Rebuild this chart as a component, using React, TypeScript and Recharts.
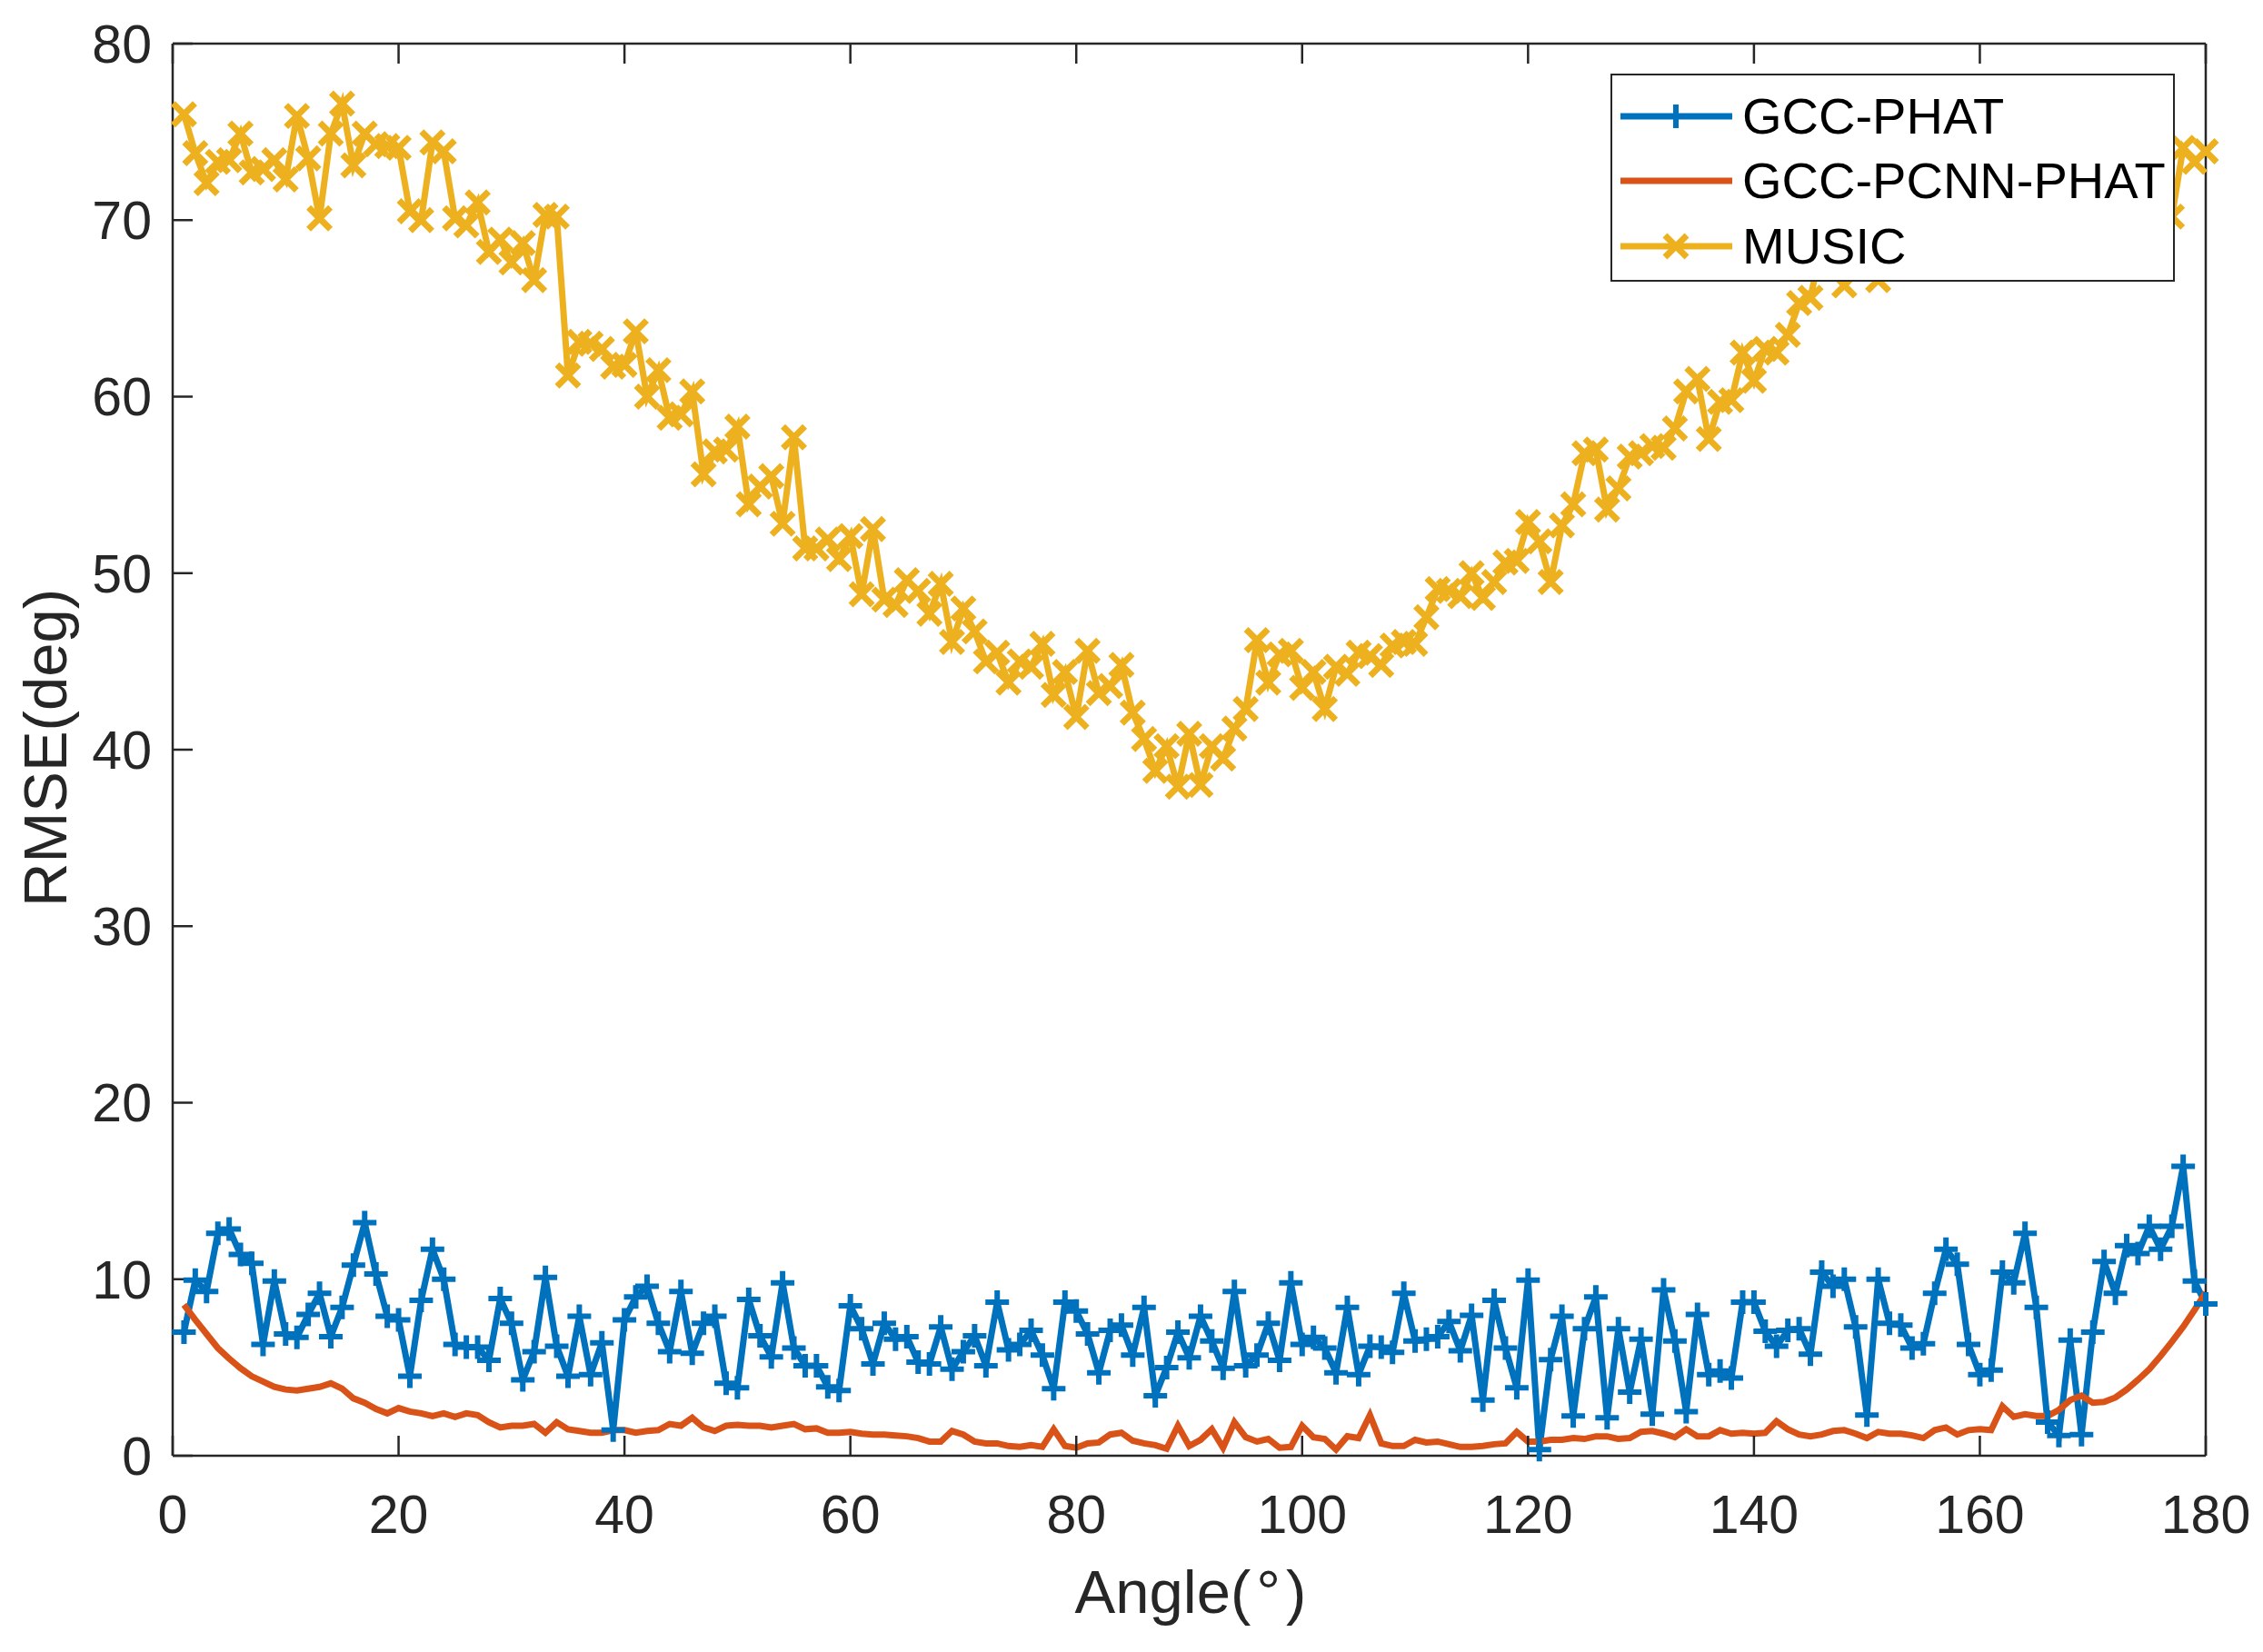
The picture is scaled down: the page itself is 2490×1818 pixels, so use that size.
import React from "react";
import { Legend, Line, LineChart, XAxis, YAxis } from "recharts";

// RMSE vs source angle, 1..180 degrees
const ANGLES = Array.from({ length: 180 }, (_, i) => i + 1);

const GCC_PHAT = [
  7.0, 9.95, 9.3, 12.6, 12.85, 11.4, 10.9, 6.3, 9.9, 6.9,
  6.7, 8.0, 9.2, 6.75, 8.4, 10.8, 13.2, 10.3, 7.9, 7.7,
  4.5, 8.8, 11.7, 10.0, 6.3, 6.15, 6.15, 5.4, 8.9, 7.5,
  4.3, 5.9, 10.1, 6.2, 4.5, 7.9, 4.6, 6.4, 1.45, 7.7,
  9.0, 9.6, 7.5, 5.9, 9.3, 5.8, 7.5, 7.9, 4.1, 3.85,
  8.85, 6.8, 5.6, 9.8, 6.1, 5.1, 5.1, 3.9, 3.7, 8.5,
  7.2, 5.2, 7.5, 6.6, 6.75, 5.3, 5.2, 7.3, 4.9, 5.9,
  6.8, 5.1, 8.7, 6.0, 6.3, 7.1, 5.7, 3.8, 8.7, 8.2,
  6.9, 4.7, 7.1, 7.4, 5.7, 8.4, 3.4, 5.0, 7.0, 5.55,
  7.9, 6.5, 4.95, 9.3, 5.1, 5.7, 7.5, 5.4, 9.8, 6.3,
  6.7, 6.1, 4.7, 8.4, 4.6, 6.2, 6.15, 5.85, 9.2, 6.5,
  6.6, 6.75, 7.6, 5.95, 7.95, 3.15, 8.8, 6.1, 3.85, 9.95,
  0.35, 5.45, 7.9, 2.25, 7.2, 9.0, 2.15, 7.2, 3.6, 6.6,
  2.35, 9.4, 6.5, 2.5, 8.0, 4.6, 4.8, 4.4, 8.7, 8.7,
  7.05, 6.2, 7.1, 7.2, 5.75, 10.4, 9.6, 10.0, 7.3, 2.3,
  10.0, 7.5, 7.4, 6.1, 6.35, 9.2, 11.7, 10.85, 6.3, 4.6,
  4.85, 10.4, 9.8, 12.6, 8.4, 1.9, 1.15, 6.55, 1.2, 7.0,
  11.0, 9.2, 11.9, 11.45, 13.0, 11.7, 13.0, 16.4, 9.9, 8.6,
];

const GCC_PCNN_PHAT = [
  8.55, 7.7, 6.9, 6.1, 5.5, 4.96, 4.5, 4.2, 3.9, 3.75,
  3.7, 3.8, 3.9, 4.1, 3.8, 3.25, 3.0, 2.65, 2.4, 2.7,
  2.5, 2.4, 2.25, 2.4, 2.2, 2.4, 2.3, 1.9, 1.6, 1.7,
  1.7, 1.8, 1.3, 1.9, 1.5, 1.4, 1.3, 1.3, 1.45, 1.45,
  1.3, 1.4, 1.45, 1.8, 1.7, 2.15, 1.6, 1.4, 1.7, 1.75,
  1.7, 1.7, 1.6, 1.7, 1.8, 1.5, 1.55, 1.3, 1.3, 1.35,
  1.25, 1.2, 1.2, 1.15, 1.1, 1.0, 0.8, 0.8, 1.4, 1.2,
  0.8, 0.7, 0.7, 0.55, 0.5, 0.6, 0.5, 1.5, 0.55, 0.45,
  0.7, 0.75, 1.2, 1.3, 0.85, 0.7, 0.6, 0.4, 1.7, 0.55,
  0.9, 1.5, 0.45, 1.9, 1.05, 0.8, 0.95, 0.45, 0.5, 1.7,
  1.05, 0.95, 0.35, 1.1, 1.0, 2.3, 0.7, 0.55, 0.55, 0.9,
  0.75, 0.8, 0.65, 0.5, 0.5, 0.55, 0.65, 0.7, 1.35, 0.8,
  0.8, 0.9, 0.9, 1.0, 0.95, 1.1, 1.1, 0.95, 1.0, 1.35,
  1.4, 1.25, 1.05, 1.5, 1.1, 1.1, 1.45, 1.25, 1.3, 1.25,
  1.3, 1.95, 1.5, 1.2, 1.1, 1.2, 1.4, 1.45, 1.25, 1.0,
  1.35, 1.25, 1.25, 1.15, 1.0, 1.45, 1.6, 1.2, 1.45, 1.5,
  1.45, 2.8, 2.2, 2.35, 2.25, 2.25, 2.6, 3.15, 3.4, 3.0,
  3.05, 3.3, 3.75, 4.3, 4.9, 5.65, 6.45, 7.3, 8.25, 9.25,
];

const MUSIC = [
  76.0, 73.8, 72.1, 73.3, 73.4, 74.9, 72.7, 72.9, 73.4, 72.3,
  75.9, 73.5, 70.1, 74.9, 76.6, 73.1, 74.9, 74.3, 74.2, 74.1,
  70.5, 70.0, 74.4, 73.9, 70.1, 69.7, 71.0, 68.2, 68.9, 67.6,
  68.7, 66.6, 70.3, 70.2, 61.2, 63.1, 63.0, 62.7, 61.7, 61.8,
  63.7, 60.0, 61.5, 58.8, 59.0, 60.3, 55.6, 56.9, 57.0, 58.3,
  53.9, 54.9, 55.5, 52.8, 57.7, 51.4, 51.4, 51.9, 50.8, 52.1,
  48.8, 52.5, 48.5, 48.2, 49.6, 49.0, 47.7, 49.4, 46.1, 48.0,
  46.7, 45.0, 45.5, 43.8, 45.0, 44.7, 46.0, 43.1, 44.4, 41.85,
  45.6, 43.2, 43.6, 44.8, 42.1, 40.6, 38.8, 40.2, 37.9, 40.9,
  38.0, 40.2, 39.5, 41.2, 42.3, 46.2, 43.8, 45.4, 45.6, 43.5,
  44.4, 42.3, 44.7, 44.3, 45.5, 45.3, 44.8, 45.9, 46.1, 46.0,
  47.5, 49.1, 49.0, 48.7, 50.0, 48.6, 49.5, 50.6, 50.7, 52.9,
  51.8, 49.5, 52.7, 53.9, 56.8, 57.0, 53.6, 54.8, 56.6, 56.8,
  57.2, 57.1, 58.2, 60.3, 61.0, 57.6, 59.7, 59.8, 62.5, 60.9,
  62.7, 62.5, 63.5, 65.3, 65.6, 68.6, 69.4, 66.3, 68.8, 69.5,
  66.6, 68.9, 69.8, 68.7, 70.4, 69.6, 71.2, 70.0, 70.9, 72.1,
  70.6, 71.8, 72.6, 71.3, 73.0, 72.2, 73.6, 71.9, 73.2, 74.3,
  72.8, 73.9, 74.6, 73.1, 74.8, 73.5, 70.2, 74.1, 73.3, 73.9,
];

const X_TICKS = [0, 20, 40, 60, 80, 100, 120, 140, 160, 180];
const Y_TICKS = [0, 10, 20, 30, 40, 50, 60, 70, 80];

const BLUE = "#0072BD";
const RED = "#D95319";
const YELLOW = "#EDB120";
const AXIS = "#262626";
const FONT = "'Liberation Sans', Arial, Helvetica, sans-serif";

const data = ANGLES.map((angle, i) => ({
  angle,
  gcc: GCC_PHAT[i],
  pcnn: GCC_PCNN_PHAT[i],
  music: MUSIC[i],
}));

const plusDot = (p: any) => {
  const { cx, cy, index } = p;
  if (cx == null || cy == null) return <g key={`p${index}`} />;
  return (
    <path
      key={`p${index}`}
      d={`M${cx - 13} ${cy}H${cx + 13}M${cx} ${cy - 13}V${cy + 13}`}
      stroke={BLUE}
      strokeWidth={6}
      fill="none"
    />
  );
};

const crossDot = (p: any) => {
  const { cx, cy, index } = p;
  if (cx == null || cy == null) return <g key={`x${index}`} />;
  return (
    <path
      key={`x${index}`}
      d={`M${cx - 12} ${cy - 12}L${cx + 12} ${cy + 12}M${cx - 12} ${cy + 12}L${cx + 12} ${cy - 12}`}
      stroke={YELLOW}
      strokeWidth={7}
      fill="none"
    />
  );
};

const LEGEND_ITEMS = [
  { name: "GCC-PHAT", color: BLUE, marker: "plus" },
  { name: "GCC-PCNN-PHAT", color: RED, marker: "" },
  { name: "MUSIC", color: YELLOW, marker: "cross" },
];

function LegendBox() {
  return (
    <div
      style={{
        width: 621,
        height: 229,
        boxSizing: "border-box",
        border: `2.5px solid ${AXIS}`,
        background: "#fff",
        paddingTop: 9,
      }}
    >
      {LEGEND_ITEMS.map((item) => (
        <div key={item.name} style={{ display: "flex", alignItems: "center", height: 71.5 }}>
          <svg width={135} height={40} style={{ flex: "none" }}>
            <line x1={9} x2={132} y1={20} y2={20} stroke={item.color} strokeWidth={7} />
            {item.marker === "plus" && (
              <path d="M57 20H83M70 7V33" stroke={item.color} strokeWidth={6} fill="none" />
            )}
            {item.marker === "cross" && (
              <path d="M58 8L82 32M58 32L82 8" stroke={item.color} strokeWidth={7} fill="none" />
            )}
          </svg>
          <span style={{ marginLeft: 8, fontFamily: FONT, fontSize: 56, color: "#000", lineHeight: 1 }}>
            {item.name}
          </span>
        </div>
      ))}
    </div>
  );
}

const tickStyle = { fontSize: 59, fill: AXIS, fontFamily: FONT };
const lineStyle = { stroke: AXIS, strokeWidth: 2.5 };

export default function App() {
  return (
    <div style={{ position: "absolute", left: 0, top: 0, width: 2490, height: 1818, background: "#fff" }}>
      <LineChart width={2490} height={1818} data={data} margin={{ top: 47, right: 62, bottom: 96, left: 40 }}>
        <XAxis
          xAxisId="b"
          dataKey="angle"
          type="number"
          domain={[0, 180]}
          ticks={X_TICKS}
          height={120}
          tickSize={-22}
          tickMargin={65}
          tick={tickStyle}
          axisLine={lineStyle}
          tickLine={lineStyle}
        />
        <XAxis
          xAxisId="t"
          orientation="top"
          dataKey="angle"
          type="number"
          domain={[0, 180]}
          ticks={X_TICKS}
          height={1}
          tickSize={-22}
          tickFormatter={() => ""}
          axisLine={lineStyle}
          tickLine={lineStyle}
        />
        <YAxis
          yAxisId="l"
          type="number"
          domain={[0, 80]}
          ticks={Y_TICKS}
          width={150}
          tickSize={-22}
          tickMargin={45}
          tick={tickStyle}
          axisLine={lineStyle}
          tickLine={lineStyle}
        />
        <YAxis
          yAxisId="r"
          orientation="right"
          type="number"
          domain={[0, 80]}
          ticks={Y_TICKS}
          width={1}
          tickSize={-22}
          tickFormatter={() => ""}
          axisLine={lineStyle}
          tickLine={lineStyle}
        />
        <Line
          xAxisId="b"
          yAxisId="l"
          dataKey="gcc"
          name="GCC-PHAT"
          type="linear"
          stroke={BLUE}
          strokeWidth={7}
          dot={plusDot}
          activeDot={false}
          isAnimationActive={false}
        />
        <Line
          xAxisId="b"
          yAxisId="l"
          dataKey="pcnn"
          name="GCC-PCNN-PHAT"
          type="linear"
          stroke={RED}
          strokeWidth={7}
          dot={false}
          activeDot={false}
          isAnimationActive={false}
        />
        <Line
          xAxisId="b"
          yAxisId="l"
          dataKey="music"
          name="MUSIC"
          type="linear"
          stroke={YELLOW}
          strokeWidth={7}
          dot={crossDot}
          activeDot={false}
          isAnimationActive={false}
        />
        <Legend
          layout="vertical"
          align="center"
          verticalAlign="middle"
          content={() => <LegendBox />}
          wrapperStyle={{ left: 1772, top: 81, width: 621, height: 229 }}
        />
      </LineChart>
      <svg
        width={2490}
        height={1818}
        style={{ position: "absolute", left: 0, top: 0, pointerEvents: "none" }}
      >
        <text x={1310} y={1775} textAnchor="middle" fontSize={67} fill={AXIS} fontFamily={FONT}>
          Angle(<tspan dx={6}>°</tspan>
          <tspan dx={6}>)</tspan>
        </text>
        <text
          transform="translate(73,823) rotate(-90)"
          textAnchor="middle"
          fontSize={67}
          fill={AXIS}
          fontFamily={FONT}
        >
          RMSE(deg)
        </text>
      </svg>
    </div>
  );
}
